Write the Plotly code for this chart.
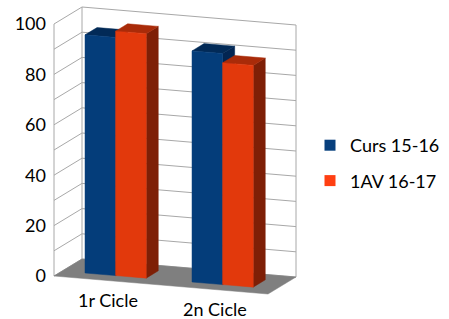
import plotly.graph_objects as go

# ---- data ----
categories = ["1r Cicle", "2n Cicle"]
series_names = ["Curs 15-16", "1AV 16-17"]
curs_15_16 = [94.5, 91.7]
av_16_17 = [97.0, 88.0]
y_ticks = [0, 20, 40, 60, 80, 100]
grid_values = list(range(0, 101, 10))

series_values = [curs_15_16, av_16_17]
front_colors = ["#043D7A", "#E2390C"]
top_colors = ["#022A57", "#A92B09"]
side_colors = ["#022552", "#7E1F06"]
legend_colors = ["#073F7D", "#FF3F12"]

# ---- oblique projection of the 3-D box (c: along categories 0..1, v: value, d: depth 0..1) ----
X0, CW, DX = 54.0, 214.0, 28.0
Y0, CS, DY, VS = 276.0, 18.0, -17.0, 2.52
W, H = 449, 319


def proj(c, v, d):
    px = X0 + CW * c + DX * d
    py = Y0 + CS * c + DY * d - VS * v
    return px, (Y0 - py) / VS  # x in pixel units, y in value units of front-left edge


def poly(pts):
    xs, ys = zip(*[proj(*p) for p in pts])
    return list(xs) + [xs[0]], list(ys) + [ys[0]]


fig = go.Figure()

# gridlines on the walls
gx, gy = [], []
for v in grid_values:
    for p in [(0, v, 0), (0, v, 1), (1, v, 1)]:
        x, y = proj(*p)
        gx.append(x); gy.append(y)
    gx.append(None); gy.append(None)
# wall vertical edges
for (c, d) in [(0, 0), (0, 1), (1, 1)]:
    for v in (0, 100):
        x, y = proj(c, v, d)
        gx.append(x); gy.append(y)
    gx.append(None); gy.append(None)
fig.add_trace(go.Scatter(x=gx, y=gy, mode="lines", line=dict(color="#A8A8A8", width=1),
                         hoverinfo="skip", showlegend=False))

# floor
fx, fy = poly([(0, 0, 0), (0, 0, 1), (1, 0, 1), (1, 0, 0)])
fig.add_trace(go.Scatter(x=fx, y=fy, mode="lines", fill="toself", fillcolor="#7F7F7F",
                         line=dict(color="#7F7F7F", width=0.5), hoverinfo="skip", showlegend=False))

# bars
n_cat = len(categories)
cat_w = 1.0 / n_cat
bar_w = 0.143
d_front, d_back = 0.29, 0.72
for i in range(n_cat):
    center = (i + 0.5) * cat_w
    start = center - bar_w * len(series_values) / 2
    for s, vals in enumerate(series_values):
        v = vals[i]
        c0 = start + s * bar_w
        c1 = c0 + bar_w
        faces = [
            ([(c1, 0, d_front), (c1, 0, d_back), (c1, v, d_back), (c1, v, d_front)], side_colors[s]),
            ([(c0, v, d_front), (c1, v, d_front), (c1, v, d_back), (c0, v, d_back)], top_colors[s]),
            ([(c0, 0, d_front), (c1, 0, d_front), (c1, v, d_front), (c0, v, d_front)], front_colors[s]),
        ]
        for pts, col in faces:
            xs, ys = poly(pts)
            fig.add_trace(go.Scatter(x=xs, y=ys, mode="lines", fill="toself", fillcolor=col,
                                     line=dict(color=col, width=0.5), hoverinfo="skip",
                                     showlegend=False))

# legend entries
for s, name in enumerate(series_names):
    fig.add_trace(go.Scatter(x=[None], y=[None], mode="markers", name=name,
                             legendgroup=name,
                             marker=dict(symbol="square", size=11, color=legend_colors[s])))

# category labels
for i, cat in enumerate(categories):
    x, y = proj((i + 0.5) * cat_w, 0, 0)
    fig.add_annotation(x=x, y=y, text=cat, showarrow=False, yshift=-19,
                       xanchor="center", yanchor="middle", borderpad=0,
                       font=dict(family="Lato", size=18, color="#000000"))

fig.update_layout(
    width=W, height=H,
    margin=dict(l=0, r=0, t=0, b=0),
    paper_bgcolor="white", plot_bgcolor="white",
    font=dict(family="Lato", size=18, color="#000000"),
    xaxis=dict(visible=False, range=[0, W], domain=[0, 1]),
    yaxis=dict(range=[(Y0 - H) / VS, Y0 / VS], tickvals=y_ticks, showgrid=False,
               zeroline=False, showline=False, ticks="", anchor="free",
               position=X0 / W, ticklabelstandoff=8, domain=[0, 1],
               tickfont=dict(family="Lato", size=18, color="#000000")),
    legend=dict(x=310 / W, y=1 - 127 / H, xanchor="left", yanchor="top",
                font=dict(family="Lato", size=18, color="#000000"),
                tracegroupgap=9, bgcolor="rgba(0,0,0,0)"),
    showlegend=True,
)

fig.write_html("out.html", config={"displayModeBar": False},
               post_script="document.body.style.margin='0';document.body.style.overflow='hidden';")
